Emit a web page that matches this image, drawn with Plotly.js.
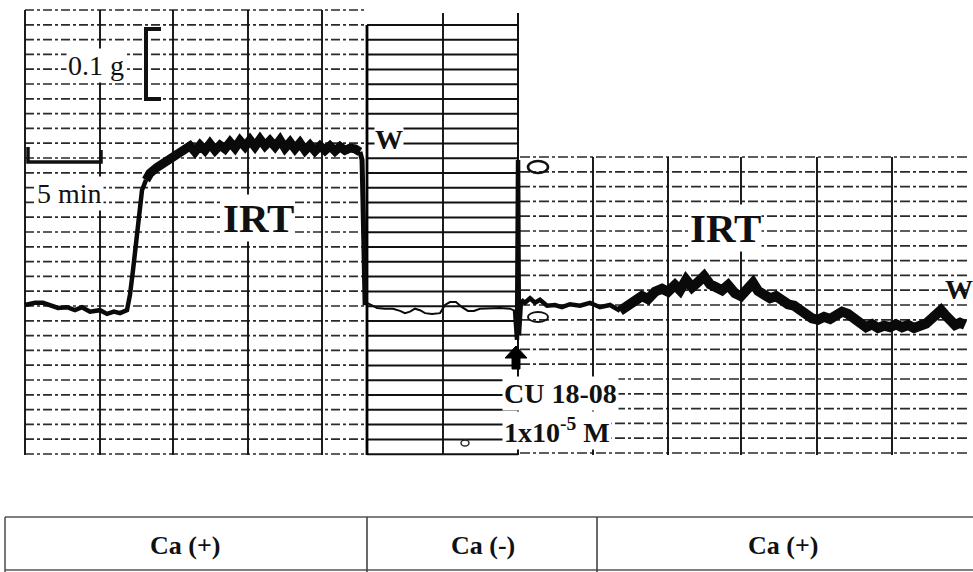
<!DOCTYPE html>
<html><head><meta charset="utf-8">
<script src="https://cdn.plot.ly/plotly-3.0.1.min.js"></script>
<style>html,body{margin:0;padding:0;background:#fff;}#chart{width:973px;height:572px;}</style>
</head><body><div id="chart"></div>
<script>
// ---- DATA (time in min, tension in g relative to baseline) ----
const base1_t = [0, 0.67, 1.2, 1.67, 2.2, 2.8, 3.33, 3.8, 4.33, 5.0, 5.47, 5.93, 6.33, 6.8, 7.0, 7.2, 7.4, 7.6, 7.8, 8.07];
const base1_g = [0, 0.003, 0.003, -0.001, -0.004, -0.003, -0.007, -0.003, -0.009, -0.007, -0.012, -0.009, -0.011, -0.007, 0.014, 0.047, 0.088, 0.128, 0.155, 0.169];

const irt1_t = [8.07, 8.33, 8.8, 9.33, 9.87, 10.33, 10.67, 11.0, 11.33, 11.67, 12.0, 12.33, 12.67, 13.0, 13.33, 13.67, 14.0, 14.33, 14.67, 15.0, 15.33, 15.67, 16.0, 16.33, 16.67, 17.0, 17.33, 17.67, 18.0, 18.33, 18.67, 19.0, 19.33, 19.67, 20.0, 20.33, 20.67, 21.0, 21.33, 21.67, 22.0, 22.33];
const irt1_g = [0.169, 0.178, 0.186, 0.193, 0.200, 0.205, 0.208, 0.215, 0.207, 0.216, 0.209, 0.218, 0.209, 0.216, 0.211, 0.220, 0.212, 0.222, 0.214, 0.223, 0.214, 0.224, 0.215, 0.222, 0.214, 0.223, 0.212, 0.220, 0.211, 0.219, 0.209, 0.216, 0.208, 0.215, 0.209, 0.215, 0.208, 0.214, 0.209, 0.212, 0.211, 0.207];

const drop1_t = [22.33, 22.47, 22.53, 22.6, 22.67, 22.8];
const drop1_g = [0.207, 0.196, 0.142, 0.061, 0.003, 0.003];

const wash_t = [22.8, 23.13, 23.47, 24.0, 24.53, 25.0, 25.33, 25.67, 26.0, 26.33, 26.67, 27.13, 27.67, 28.0, 28.33, 28.73, 29.13, 29.53, 29.93, 30.33, 31.0, 31.67, 32.33, 32.67];
const wash_g = [0.003, -0.001, -0.004, -0.005, -0.005, -0.008, -0.011, -0.009, -0.005, -0.007, -0.011, -0.012, -0.011, 0, 0.004, 0.004, -0.003, -0.008, -0.008, -0.005, -0.004, -0.004, -0.005, -0.008];

const spike_t = [32.67, 32.8, 32.87, 32.93, 33.07];
const spike_g = [-0.008, -0.047, 0.196, -0.041, 0.007];

const recov_t = [33.07, 33.33, 33.67, 34.0, 34.33, 34.8, 35.33, 35.8, 36.33, 37.0, 37.67, 38.33, 39.0, 39.67];
const recov_g = [0.007, 0.003, 0.009, 0.003, 0.007, -0.001, 0, -0.003, 0.001, -0.001, 0.003, -0.003, 0, -0.008];

const irt2_t = [39.67, 40.13, 40.67, 41.13, 41.53, 42.0, 42.47, 42.87, 43.33, 43.67, 44.07, 44.47, 44.87, 45.27, 45.67, 46.07, 46.47, 46.87, 47.33, 47.73, 48.13, 48.53, 48.87, 49.27, 49.67, 50.07, 50.47, 50.87, 51.27, 51.67, 52.07, 52.47, 52.87, 53.27, 53.67, 54.07, 54.47, 54.87, 55.27, 55.67, 56.07, 56.47, 56.87, 57.27, 57.67, 58.07, 58.47, 58.87, 59.27, 59.67, 60.07, 60.47, 60.8, 61.07, 61.33, 61.67, 62.0, 62.33, 62.67];
const irt2_g = [-0.008, -0.001, 0.007, 0.012, 0.008, 0.018, 0.022, 0.018, 0.027, 0.020, 0.034, 0.024, 0.031, 0.039, 0.028, 0.023, 0.020, 0.027, 0.016, 0.012, 0.022, 0.030, 0.019, 0.014, 0.009, 0.012, 0.005, 0.001, -0.001, -0.008, -0.014, -0.018, -0.020, -0.016, -0.019, -0.014, -0.009, -0.012, -0.018, -0.026, -0.030, -0.026, -0.031, -0.028, -0.030, -0.026, -0.030, -0.027, -0.031, -0.028, -0.025, -0.018, -0.009, -0.007, -0.013, -0.021, -0.027, -0.024, -0.027];

const phases = ['Ca (+)', 'Ca (-)', 'Ca (+)'];
const labelIRT = 'IRT';
const labelWash = 'W';
const labelDrug = ['CU 18-08', '1x10<sup>-5</sup> M'];
const scaleY = '0.1 g';
const scaleX = '5 min';

// ---- LAYOUT HELPERS (pixel -> paper) ----
const W = 973, H = 572;
const px = v => v / W;
const py = v => 1 - v / H;
const shapes = [];
function seg(x0, y0, x1, y1, color, width, dash) {
  shapes.push({type: 'line', xref: 'paper', yref: 'paper', x0: px(x0), y0: py(y0), x1: px(x1), y1: py(y1),
    line: {color: color, width: width, dash: dash || 'solid'}, layer: 'below'});
}
// left panel grid
for (let k = 0; k <= 30; k++) seg(25, 10 + 14.8 * k, 365, 10 + 14.8 * k, '#2a2a2a', 1.7, '9px,3px,3px,3px');
[25, 100, 173, 248, 322].forEach(x => seg(x, 10, x, 455, '#111', 1.9));
// middle panel grid
for (let k = 0; k <= 29; k++) seg(367, 25 + 14.8 * k, 518, 25 + 14.8 * k, '#111', 2.0);
seg(367, 25, 367, 455, '#000', 2.8);
seg(443, 13, 443, 455, '#111', 1.9);
seg(518, 13, 518, 455, '#111', 2.0);
// right panel grid
for (let k = 0; k <= 20; k++) seg(520, 157 + 14.8 * k, 968, 157 + 14.8 * k, '#2a2a2a', 1.7, '10px,3px,3px,3px');
[593, 668, 741, 817, 892].forEach(x => seg(x, 157, x, 455, '#111', 1.9));
// scale bars
shapes.push({type: 'path', xref: 'paper', yref: 'paper',
  path: `M ${px(161)} ${py(29)} L ${px(146)} ${py(29)} L ${px(146)} ${py(99)} L ${px(161)} ${py(99)}`,
  line: {color: '#111', width: 4}});
shapes.push({type: 'path', xref: 'paper', yref: 'paper',
  path: `M ${px(28)} ${py(147)} L ${px(28)} ${py(162)} L ${px(101)} ${py(162)} L ${px(101)} ${py(150)}`,
  line: {color: '#111', width: 3.5}});
// pen artefacts
shapes.push({type: 'circle', xref: 'paper', yref: 'paper', x0: px(528), x1: px(548), y0: py(161), y1: py(173), line: {color: '#111', width: 2.6}});
shapes.push({type: 'circle', xref: 'paper', yref: 'paper', x0: px(528), x1: px(548), y0: py(312), y1: py(322), line: {color: '#111', width: 1.8}});
shapes.push({type: 'circle', xref: 'paper', yref: 'paper', x0: px(461), x1: px(469), y0: py(440), y1: py(446), line: {color: '#222', width: 1.4}});
// drug arrow
shapes.push({type: 'path', xref: 'paper', yref: 'paper',
  path: `M ${px(516)} ${py(346)} L ${px(527)} ${py(358)} L ${px(520)} ${py(358)} L ${px(520)} ${py(369)} L ${px(512)} ${py(369)} L ${px(512)} ${py(358)} L ${px(505)} ${py(358)} Z`,
  fillcolor: '#000', line: {color: '#000', width: 1}});
// phase table
seg(5, 517, 973, 517, '#555', 1.6);
seg(5, 570, 973, 570, '#555', 1.6);
seg(5, 517, 5, 572, '#555', 1.6);
seg(367, 517, 367, 572, '#444', 1.6);
seg(597, 517, 597, 572, '#444', 1.6);

const serif = 'Liberation Serif, Times New Roman, serif';
function ann(text, x, y, size, bold, opts) {
  return Object.assign({text: bold ? '<b>' + text + '</b>' : text, xref: 'paper', yref: 'paper', x: px(x), y: py(y),
    showarrow: false, xanchor: 'center', yanchor: 'middle', font: {family: serif, size: size, color: '#111'}}, opts || {});
}
const annotations = [
  ann(scaleY, 96, 65, 28, false, {bgcolor: '#fff'}),
  ann(scaleX, 69, 193, 28, false, {bgcolor: '#fff'}),
  ann(labelIRT, 258, 218, 41, true, {bgcolor: '#fff', borderpad: 0}),
  ann(labelIRT, 725, 228, 41, true, {bgcolor: '#fff', borderpad: 0}),
  ann(labelWash, 389, 139, 28, true, {bgcolor: '#fff', borderpad: 0}),
  ann(labelWash, 959, 289, 28, true, {borderpad: 0}),
  ann(labelDrug[0], 502, 393, 28, true, {xanchor: 'left', bgcolor: '#fff', borderpad: 1}),
  ann(labelDrug[1], 502, 430, 28, true, {xanchor: 'left', bgcolor: '#fff', borderpad: 1}),
  ann(phases[0], 185, 545, 26, true),
  ann(phases[1], 483, 545, 26, true),
  ann(phases[2], 783, 545, 26, true)
];

const line = (t, g, w) => ({x: t, y: g, type: 'scatter', mode: 'lines', line: {color: '#0a0a0a', width: w, shape: 'linear'}, hoverinfo: 'skip', showlegend: false});
const traces = [
  line(base1_t, base1_g, 4.5),
  line(irt1_t, irt1_g, 9),
  line(drop1_t, drop1_g, 5),
  line(wash_t, wash_g, 2),
  line(spike_t, spike_g, 4.5),
  line(recov_t, recov_g, 4.5),
  line(irt2_t, irt2_g, 10)
];

const layout = {
  width: W, height: H, margin: {l: 0, r: 0, t: 0, b: 0, pad: 0},
  paper_bgcolor: '#fff', plot_bgcolor: 'rgba(0,0,0,0)',
  xaxis: {range: [-25 / 15, 948 / 15], visible: false, fixedrange: true},
  yaxis: {range: [(305 - 572) / 740, 305 / 740], visible: false, fixedrange: true},
  shapes: shapes, annotations: annotations, showlegend: false
};
Plotly.newPlot('chart', traces, layout, {staticPlot: true, displayModeBar: false});
</script></body></html>
